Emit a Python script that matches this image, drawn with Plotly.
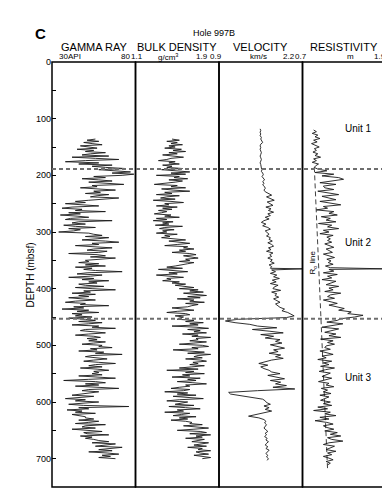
import numpy as np
import plotly.graph_objects as go

# ---------------- data ----------------
gamma_top, gamma_step = 136, 2          # depth of first sample (mbsf), spacing (m)
gamma_api = [
    56, 51, 58, 49, 54, 60, 47, 52, 57, 45, 55, 50, 62, 53,
    48, 64, 42, 56, 70, 50, 38, 58, 46, 66, 54,
    62, 74, 58, 70, 77, 66, 79, 72,
    55, 62, 48, 58, 66, 52, 60, 73, 54, 57, 47, 61, 68, 55, 59, 50, 64, 57, 53, 70, 58, 52,
    44, 50, 38, 46, 58, 42, 36, 48, 44, 62, 40, 47, 35, 45, 52, 41, 38, 66, 46, 42, 50, 37, 44, 56, 40, 47, 43, 34, 52,
    55, 60, 50, 64, 57, 48, 62, 70, 54, 58, 44, 60, 66, 55, 51, 63, 58, 40, 57, 62, 53, 68, 56, 50,
    52, 46, 58, 50, 62, 44, 54, 49, 56, 72, 51, 45, 60, 53, 40, 55, 48, 64, 52, 57, 46, 50, 61, 44, 54, 68, 49, 53, 42, 56,
    46, 52, 40, 48, 56, 44, 38, 50, 47, 64, 43, 49, 36, 52, 45, 58, 42, 48, 44, 54, 40,
    50, 56, 46, 60, 52, 42, 58, 54, 68, 50, 47, 57, 62, 52, 44, 55, 59, 51,
    57, 52, 62, 55, 48, 60, 58, 66, 53, 57, 46, 61, 56, 72, 54, 50, 59, 63, 55, 49, 58, 68, 56, 52, 60, 47, 57, 64, 55, 58,
    54, 60, 46, 57, 68, 52, 37, 56, 62, 50, 58, 44, 55, 70, 52, 48, 58, 53,
    48, 42, 55, 46, 38, 50, 44, 58, 47, 40, 49, 76, 46, 52, 39, 48, 44, 56, 42, 47, 50,
    50, 55, 46, 58, 52, 44, 62, 50, 48, 56, 42, 53, 60, 49, 51, 64, 47, 54, 50, 55,
    58, 64, 54, 68, 60, 56, 72, 62, 58, 66, 52, 63, 70, 60, 65, 58, 68,
]

density_top, density_step = 136, 2
density_gcc = [
    1.45, 1.52, 1.40, 1.50, 1.44, 1.55, 1.42,
    1.48, 1.38, 1.54, 1.46, 1.58, 1.42, 1.50, 1.36, 1.47, 1.56, 1.44,
    1.40, 1.32, 1.48, 1.42, 1.52, 1.36, 1.45, 1.40,
    1.55, 1.35, 1.50, 1.62, 1.44, 1.58, 1.30, 1.52, 1.47, 1.60, 1.42, 1.55, 1.48,
    1.40, 1.28, 1.50, 1.44, 1.58, 1.35, 1.46, 1.62, 1.38, 1.45, 1.30, 1.52, 1.40, 1.34, 1.48, 1.27, 1.44, 1.56, 1.38, 1.42, 1.30, 1.50, 1.36, 1.45, 1.32, 1.40,
    1.35, 1.28, 1.44, 1.38, 1.52, 1.30, 1.40, 1.27, 1.46, 1.36, 1.42, 1.29, 1.55, 1.38, 1.33, 1.47, 1.36, 1.40, 1.30, 1.50, 1.38, 1.43, 1.35,
    1.48, 1.58, 1.42, 1.55, 1.62, 1.50, 1.38, 1.60, 1.56, 1.66, 1.52, 1.58, 1.45, 1.62, 1.68, 1.56, 1.64, 1.70, 1.58, 1.62, 1.52, 1.66, 1.60, 1.55,
    1.48, 1.40, 1.55, 1.32, 1.46, 1.60, 1.42, 1.50, 1.30, 1.47, 1.56, 1.40, 1.44, 1.36, 1.52, 1.45, 1.58, 1.48,
    1.58, 1.66, 1.52, 1.70, 1.62, 1.75, 1.56, 1.68, 1.78, 1.60, 1.72, 1.50, 1.66, 1.62, 1.76, 1.58, 1.70, 1.64,
    1.60, 1.45, 1.55, 1.66, 1.50, 1.40, 1.58, 1.62, 1.48, 1.56, 1.52,
    1.50, 1.66, 1.58, 1.75, 1.62, 1.70, 1.45, 1.68, 1.80, 1.60, 1.72, 1.66, 1.78, 1.55, 1.70, 1.64, 1.82, 1.68,
    1.70, 1.62, 1.78, 1.66, 1.52, 1.74, 1.80, 1.64, 1.70, 1.46, 1.68, 1.76, 1.60, 1.82, 1.70, 1.66, 1.74, 1.58, 1.72, 1.78, 1.65, 1.70, 1.62, 1.76,
    1.64, 1.52, 1.70, 1.40, 1.66, 1.58, 1.76, 1.55, 1.62, 1.45, 1.72, 1.60, 1.68, 1.50, 1.65, 1.78, 1.58, 1.62,
    1.52, 1.44, 1.62, 1.56, 1.38, 1.60, 1.50, 1.68, 1.46, 1.58, 1.75, 1.52, 1.40, 1.60, 1.55, 1.48, 1.66, 1.42, 1.58, 1.72, 1.50, 1.56, 1.38, 1.62, 1.54, 1.46, 1.68, 1.52, 1.60, 1.44, 1.58, 1.64,
    1.62, 1.74, 1.56, 1.70, 1.80, 1.66, 1.50, 1.72, 1.78, 1.62, 1.82, 1.68, 1.74, 1.58, 1.76, 1.70, 1.64, 1.80, 1.72, 1.66, 1.78, 1.60, 1.74, 1.70, 1.82, 1.68,
    1.72, 1.80, 1.66, 1.76, 1.82, 1.74,
]

velocity_top, velocity_step = 118, 3
velocity_kms = [
    1.54, 1.55, 1.54, 1.55, 1.54, 1.56, 1.55, 1.56, 1.58, 1.55, 1.54, 1.55, 1.54, 1.55, 1.56, 1.55, 1.54, 1.55, 1.56, 1.55, 1.54, 1.55, 1.55,
    1.56, 1.57, 1.56, 1.58, 1.59, 1.57, 1.59, 1.61, 1.58, 1.60, 1.58, 1.61, 1.62, 1.60, 1.62,
    1.66, 1.72, 1.64, 1.70, 1.76, 1.65, 1.69, 1.74, 1.63, 1.71, 1.67, 1.75, 1.66, 1.70, 1.62, 1.68,
    1.60, 1.56, 1.63, 1.58, 1.66, 1.70, 1.62, 1.65, 1.68, 1.64, 1.70,
    1.68, 1.73, 1.66, 1.72, 1.75, 1.67, 1.71, 1.64, 1.74, 1.69, 1.72, 1.66, 1.73, 1.70, 1.76, 1.68, 1.72, 1.70,
    1.72, 1.78, 1.70, 1.80, 1.75, 1.84, 1.73, 1.79, 1.70, 1.82, 1.76, 1.74, 1.86, 1.72, 1.80, 1.77, 1.83, 1.75, 1.79, 1.85, 1.78, 1.82,
    1.85, 1.92, 1.88, 1.97, 2.02, 2.07, 1.95,
    1.20, 1.00, 1.15, 1.38,
    1.50, 1.80, 1.42, 1.68, 1.90, 1.55, 1.75, 1.62, 1.85,
    1.78, 1.88, 1.70, 1.84, 1.92, 1.75, 1.82, 1.68, 1.86, 1.78, 1.90, 1.72,
    1.62, 1.52, 1.66, 1.55, 1.60, 1.68,
    1.72, 1.85, 1.66, 1.80, 1.92, 1.70, 1.86, 1.78, 1.95, 1.74, 2.08,
    1.50, 1.05, 1.08, 1.25, 1.45, 1.58, 1.62,
    1.64, 1.70, 1.60, 1.68, 1.62, 1.72, 1.58,
    1.45, 1.36, 1.52,
    1.60, 1.63, 1.61, 1.64, 1.62, 1.60, 1.63, 1.66, 1.62, 1.64, 1.61, 1.65, 1.63, 1.67, 1.64, 1.62, 1.66, 1.63, 1.68, 1.65, 1.63, 1.66, 1.64, 1.67, 1.65,
]
velocity_spike_depth = [365]
velocity_spike_kms = [2.2]

resistivity_top, resistivity_step = 120, 3
resistivity_ohmm = [
    0.86, 0.90, 0.84, 0.92, 0.88, 0.95, 0.86, 0.91, 0.83, 0.89, 0.94, 0.87, 0.90, 0.85, 0.92, 0.88, 0.96, 0.86, 0.90, 0.84, 0.93, 0.89, 0.87,
    0.92, 1.05, 0.88, 1.15, 0.98, 1.22, 1.29, 1.08, 0.95, 1.18, 1.00,
    1.02, 1.15, 0.92, 1.10, 1.22, 0.98, 1.08, 1.18, 0.95, 1.12, 1.25, 1.00, 1.06, 0.90, 1.15, 1.08, 1.20, 0.97, 1.10, 1.04, 1.18, 0.93, 1.12, 1.06, 1.22, 1.00, 1.08, 0.95, 1.14, 1.05, 1.10,
    1.06, 1.12, 1.02, 1.10, 1.15, 1.04, 1.09, 1.13, 1.00, 1.08, 1.16, 1.05, 1.11, 1.07, 1.14, 1.03, 1.10,
    1.08, 1.15, 1.00, 1.20, 1.06, 1.12, 0.98, 1.18, 1.10, 1.04, 1.22, 1.08, 1.14, 1.02, 1.25, 1.10, 1.06, 1.16, 1.00, 1.12, 1.20, 1.08,
    1.18, 1.30, 1.22, 1.40, 1.35, 1.57, 1.45, 1.25,
    1.20, 1.05, 1.28, 1.10, 0.98, 1.22, 1.12, 1.02, 1.18, 1.08, 1.25, 0.96, 1.14, 1.06, 1.16, 1.04,
    1.02, 1.10, 0.95, 1.06, 1.14, 0.98, 1.04, 0.92, 1.12, 1.00, 1.08, 0.96, 1.16, 1.03, 0.94, 1.10, 1.05, 0.98, 1.12, 1.00, 0.93, 1.08, 1.04, 1.15, 0.97, 1.06, 1.00, 1.11, 0.95, 1.08, 1.02, 0.96, 1.10,
    1.00, 1.12, 0.92, 1.06, 0.86, 1.10, 1.02, 1.18, 0.95, 1.08, 0.88, 1.05, 1.14, 1.00,
    1.05, 1.15, 1.02, 1.20, 1.10, 1.25, 1.06, 1.12, 1.28, 1.08, 1.00, 1.16, 1.10, 1.04, 1.18, 1.06, 1.12, 1.00, 1.08, 1.14, 1.04, 1.10, 1.06,
]
resistivity_spike_depth = [365]
resistivity_spike_ohmm = [1.9]

rline_depth = [186, 718]
rline_ohmm = [0.87, 1.06]

unit_boundaries = [189, 453]
unit_labels = ["Unit 1", "Unit 2", "Unit 3"]
unit_label_depths = [118, 319, 557]

track_titles = ["GAMMA RAY", "BULK DENSITY", "VELOCITY", "RESISTIVITY"]
track_units = ["API", "g/cm<sup>3</sup>", "km/s", "m"]
track_ranges = [(30, 80), (1.1, 1.9), (0.9, 2.2), (0.7, 1.9)]
track_range_labels = [("30", "80"), ("1.1", "1.9"), ("0.9", "2.2"), ("0.7", "1.9")]
depth_ticks = [0, 100, 200, 300, 400, 500, 600, 700]
depth_range = (750, 0)

# ---------------- layout geometry (pixels) ----------------
W, H = 390, 492
L, R, T, B = 44, 378, 54, 479
PW, PH = R - L, B - T
FONT = "Liberation Sans, Arial, Helvetica, sans-serif"


def px(x):
    return (x - L) / PW


def py(y):
    return (B - y) / PH


def series(top, step, vals, spike_d=None, spike_v=None):
    d = list(top + step * np.arange(len(vals)))
    v = list(vals)
    if spike_d:
        pts = sorted(zip(d + list(spike_d), v + list(spike_v)), key=lambda p: p[0])
        d = [p[0] for p in pts]
        v = [p[1] for p in pts]
    return d, v


fig = go.Figure()
line_style = dict(color="#1a1a1a", width=0.9)

d, v = series(gamma_top, gamma_step, gamma_api)
fig.add_trace(go.Scatter(x=v, y=d, mode="lines", line=line_style, xaxis="x", yaxis="y"))
d, v = series(density_top, density_step, density_gcc)
fig.add_trace(go.Scatter(x=v, y=d, mode="lines", line=line_style, xaxis="x2", yaxis="y"))
d, v = series(velocity_top, velocity_step, velocity_kms, velocity_spike_depth, velocity_spike_kms)
fig.add_trace(go.Scatter(x=v, y=d, mode="lines", line=line_style, xaxis="x3", yaxis="y"))
d, v = series(resistivity_top, resistivity_step, resistivity_ohmm, resistivity_spike_depth, resistivity_spike_ohmm)
fig.add_trace(go.Scatter(x=v, y=d, mode="lines", line=line_style, xaxis="x4", yaxis="y"))
fig.add_trace(go.Scatter(x=rline_ohmm, y=rline_depth, mode="lines",
                         line=dict(color="#111", width=0.8, dash="5px,3px"), xaxis="x4", yaxis="y"))

n = len(track_ranges)
for i, rng in enumerate(track_ranges):
    key = "xaxis" if i == 0 else f"xaxis{i + 1}"
    fig.layout[key] = dict(domain=[i / n, (i + 1) / n], range=list(rng), visible=False,
                           anchor="y", fixedrange=True)

fig.update_layout(
    width=W, height=H,
    margin=dict(l=L, r=W - R, t=T, b=H - B, pad=0),
    paper_bgcolor="white", plot_bgcolor="white",
    showlegend=False,
    font=dict(family=FONT, color="black"),
    yaxis=dict(range=list(depth_range), tickvals=depth_ticks, ticks="inside", ticklen=4,
               tickwidth=1, tickcolor="black", showgrid=False, zeroline=False,
               showline=False, tickfont=dict(size=9, family=FONT),
               minor=dict(dtick=50, ticks="inside", ticklen=4, tickcolor="black", showgrid=False),
               fixedrange=True),
)

shapes = []
for i in range(n):
    shapes.append(dict(type="rect", xref="paper", yref="paper", x0=i / n, x1=(i + 1) / n,
                       y0=0, y1=1, line=dict(color="black", width=1.5), layer="above"))
for ub in unit_boundaries:
    shapes.append(dict(type="line", xref="paper", yref="y", x0=0, x1=1, y0=ub, y1=ub,
                       line=dict(color="#6e6e6e", width=2, dash="4px,3px"), layer="above"))
fig.update_layout(shapes=shapes)

ann = []
ann.append(dict(text="<b>C</b>", x=px(32), y=py(25), xref="paper", yref="paper",
                showarrow=False, font=dict(size=15), xanchor="center", yanchor="middle"))
ann.append(dict(text="Hole 997B", x=px(206), y=py(25), xref="paper", yref="paper",
                showarrow=False, font=dict(size=9), xanchor="center", yanchor="middle"))
for i, title in enumerate(track_titles):
    cx = (i + 0.5) / n
    ann.append(dict(text=title, x=cx, y=py(39), xref="paper", yref="paper", showarrow=False,
                    font=dict(size=11), xanchor="center", yanchor="middle"))
unit_centers = [66, 160, 251, 342]
lo_centers = [55, 129, 208, 293]
hi_centers = [117.5, 194, 281, 372]
for i in range(n):
    lo, hi = track_range_labels[i]
    for txt, cx in ((lo, lo_centers[i]), (track_units[i], unit_centers[i]), (hi, hi_centers[i])):
        ann.append(dict(text=txt, x=px(cx), y=py(48.5), xref="paper", yref="paper",
                        showarrow=False, font=dict(size=8), xanchor="center", yanchor="middle"))
ann.append(dict(text="DEPTH (mbsf)", x=px(22), y=0.5, xref="paper", yref="paper",
                showarrow=False, textangle=-90, font=dict(size=10),
                xanchor="center", yanchor="middle"))
for lab, dep in zip(unit_labels, unit_label_depths):
    ann.append(dict(text=lab, x=px(350), y=dep, xref="paper", yref="y", showarrow=False,
                    font=dict(size=10), xanchor="center", yanchor="middle"))
ann.append(dict(text="R<sub>o</sub> line", x=px(305), y=354, xref="paper", yref="y",
                showarrow=False, textangle=-90, font=dict(size=8),
                xanchor="center", yanchor="middle"))
fig.update_layout(annotations=ann)

fig.write_html("out.html")
